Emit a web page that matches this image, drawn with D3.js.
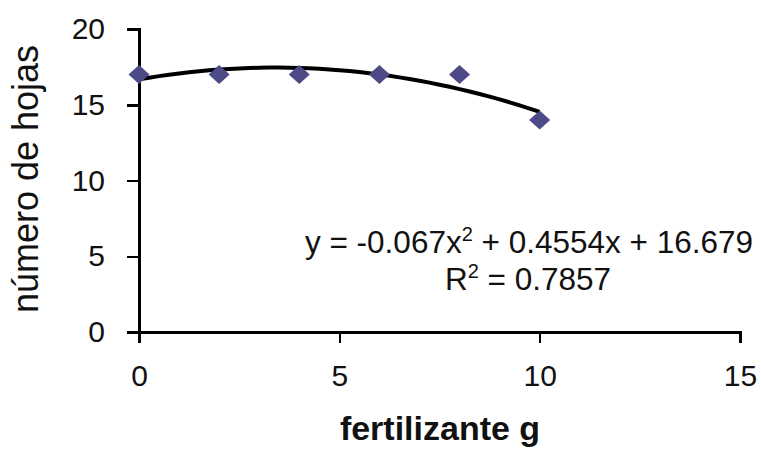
<!DOCTYPE html>
<html lang="es">
<head>
<meta charset="utf-8">
<title>número de hojas vs fertilizante</title>
<style>
body { margin: 0; background: #fff; }
svg text { font-family: "Liberation Sans", Arial, sans-serif; fill: #111; }
.axis path, .axis line { stroke: #000; stroke-width: 2.5; shape-rendering: crispEdges; }
.axis text { font-size: 30px; }
</style>
</head>
<body>
<div id="chart"></div>
<script src="https://d3js.org/d3.v7.min.js"></script>
<script>
// data
var fertilizante = [0, 2, 4, 6, 8, 10];
var hojas = [17, 17, 17, 17, 17, 14];
var xTicks = [0, 5, 10, 15];
var yTicks = [0, 5, 10, 15, 20];
// trendline coefficients as printed on the chart (a x^2 + b x + c)
var coef = [-0.067, 0.4554, 16.679];
var r2 = 0.7857;

var width = 761, height = 450;

var svg = d3.select('#chart').append('svg')
  .attr('width', width)
  .attr('height', height);

var x = d3.scaleLinear().domain([0, 15]).range([139, 740]);
var y = d3.scaleLinear().domain([0, 20]).range([332, 29]);

svg.append('g')
  .attr('class', 'axis')
  .attr('transform', 'translate(0,' + y(0) + ')')
  .call(d3.axisBottom(x).tickValues(xTicks).tickSize(11).tickPadding(22).tickSizeOuter(11));

svg.append('g')
  .attr('class', 'axis')
  .attr('transform', 'translate(' + x(0) + ',0)')
  .call(d3.axisLeft(y).tickValues(yTicks).tickSize(12).tickPadding(22).tickSizeOuter(12));

svg.selectAll('.axis .domain').attr('fill', 'none');
svg.selectAll('.axis text').attr('fill', '#111');

// trendline over the data range
var trend = d3.range(0, 10.001, 0.25).map(function(v) {
  return [v, coef[0] * v * v + coef[1] * v + coef[2]];
});
svg.append('path')
  .datum(trend)
  .attr('fill', 'none')
  .attr('stroke', '#000')
  .attr('stroke-width', 4)
  .attr('d', d3.line().x(function(d) { return x(d[0]); }).y(function(d) { return y(d[1]); }));

// diamond markers
var diamond = 'M0,-9.5L10.5,0L0,9.5L-10.5,0Z';
svg.selectAll('.pt')
  .data(fertilizante)
  .enter().append('path')
  .attr('class', 'pt')
  .attr('d', diamond)
  .attr('fill', '#4d4b87')
  .attr('transform', function(d, i) { return 'translate(' + x(d) + ',' + y(hojas[i]) + ')'; });

// equation labels
var eq = svg.append('text')
  .attr('x', 529).attr('y', 253)
  .attr('text-anchor', 'middle')
  .style('font-size', '31.5px');
eq.append('tspan').text('y = ' + coef[0] + 'x');
eq.append('tspan').attr('dy', -12).style('font-size', '20px').text('2');
eq.append('tspan').attr('dy', 12).text(' + ' + coef[1] + 'x + ' + coef[2]);

var rt = svg.append('text')
  .attr('x', 528).attr('y', 290)
  .attr('text-anchor', 'middle')
  .style('font-size', '31.5px');
rt.append('tspan').text('R');
rt.append('tspan').attr('dy', -12).style('font-size', '20px').text('2');
rt.append('tspan').attr('dy', 12).text(' = ' + r2);

// axis titles
svg.append('text')
  .attr('transform', 'translate(38,' + 179 + ') rotate(-90)')
  .attr('text-anchor', 'middle')
  .style('font-size', '36px')
  .text('número de hojas');

svg.append('text')
  .attr('x', 440).attr('y', 440)
  .attr('text-anchor', 'middle')
  .style('font-size', '34px')
  .style('font-weight', 'bold')
  .text('fertilizante g');
</script>
</body>
</html>
